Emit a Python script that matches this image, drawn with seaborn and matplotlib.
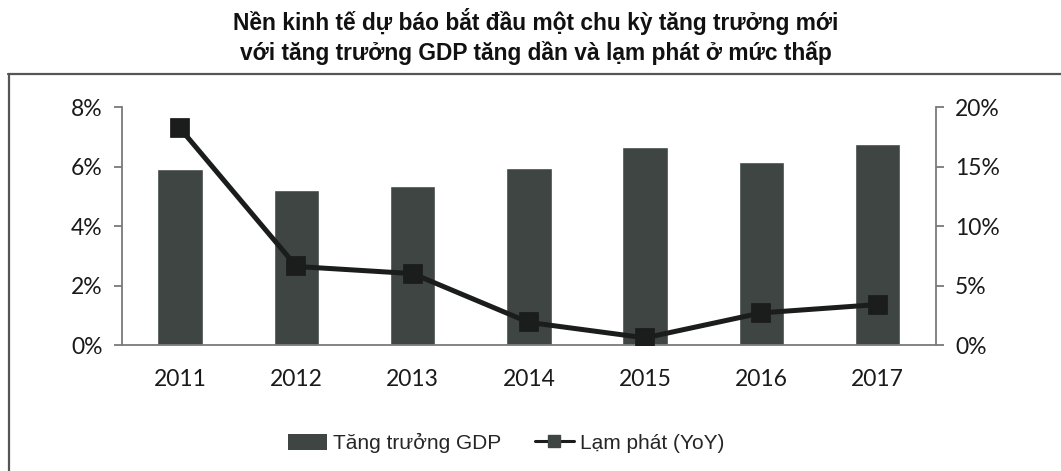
import numpy as np
import pandas as pd
import matplotlib
matplotlib.use("Agg")
import matplotlib.pyplot as plt
from matplotlib.lines import Line2D
from matplotlib.patches import Patch
from matplotlib.ticker import PercentFormatter, FixedLocator
import seaborn as sns

# data (%)
years = ["2011", "2012", "2013", "2014", "2015", "2016", "2017"]
gdp_growth = [5.9, 5.2, 5.35, 5.95, 6.65, 6.15, 6.75]
inflation = [18.2, 6.6, 6.0, 1.9, 0.6, 2.7, 3.4]

title = "Nền kinh tế dự báo bắt đầu một chu kỳ tăng trưởng mới\nvới tăng trưởng GDP tăng dần và lạm phát ở mức thấp"
gdp_label = "Tăng trưởng GDP"
cpi_label = "Lạm phát (YoY)"

df = pd.DataFrame({"year": years, "gdp": gdp_growth, "cpi": inflation})

sns.set_style("white")
plt.rcParams["font.family"] = ["Lato", "DejaVu Sans"]

bar_color = "#3e4542"
line_color = "#1b1d1c"
spine_color = "#7a7a7a"
text_color = "#1a1a1a"

fig = plt.figure(figsize=(10.61, 4.71), dpi=100)
ax = fig.add_axes([0.115, 0.2675, 0.767, 0.5053])

sns.barplot(data=df, x="year", y="gdp", color=bar_color, width=0.39,
            saturation=1, ax=ax, zorder=2)
ax.set_ylim(0, 8)
ax.set_xlim(-0.5, 6.5)
ax.set_yticks([0, 2, 4, 6, 8])
ax.yaxis.set_major_formatter(PercentFormatter(xmax=100, decimals=0))

ax2 = ax.twinx()
sns.pointplot(data=df, x="year", y="cpi", color=line_color, markers="s",
              markersize=11, linewidth=3.6, ax=ax2, zorder=3)
ax2.set_ylim(0, 20)
ax2.set_xlim(-0.5, 6.5)
ax2.set_yticks([0, 5, 10, 15, 20])
ax2.yaxis.set_major_formatter(PercentFormatter(xmax=100, decimals=0))

for a in (ax, ax2):
    a.set_xlabel("")
    a.set_ylabel("")
    a.spines["top"].set_visible(False)
    for s in ("left", "right", "bottom"):
        a.spines[s].set_color(spine_color)
        a.spines[s].set_linewidth(1.3)
    a.tick_params(axis="y", labelsize=16.5, labelcolor=text_color, colors=spine_color,
                  direction="out", length=6, width=1.3, pad=8)
ax.spines["right"].set_visible(False)
ax2.spines["left"].set_visible(False)
ax2.spines["bottom"].set_visible(False)

# category labels centred, ticks on the category boundaries
ax.tick_params(axis="x", which="major", length=0, labelsize=16.5,
               labelcolor=text_color, pad=17)
ax.xaxis.set_minor_locator(FixedLocator(np.arange(-0.5, 7, 1.0)))
ax.tick_params(axis="x", which="minor", length=7, width=1.3,
               color=spine_color, direction="out")
ax.patch.set_visible(False)
ax2.set_zorder(ax.get_zorder() + 1)

handles = [Patch(facecolor=bar_color, edgecolor="none"),
           Line2D([0], [0], color=line_color, lw=2.2, marker="s", markersize=9,
                  markerfacecolor=bar_color, markeredgecolor=bar_color)]
fig.legend(handles, [gdp_label, cpi_label], loc="center", ncol=2,
           bbox_to_anchor=(0.477, 0.06), frameon=False, handlelength=1.9,
           handleheight=0.8, handletextpad=0.28, columnspacing=1.6,
           prop={"family": ["Liberation Sans", "DejaVu Sans"], "size": 15})

fig.text(0.505, 0.922, title, ha="center", va="center", fontsize=16.4,
         fontweight="bold", family=["Liberation Sans", "DejaVu Sans"],
         linespacing=1.3, color="#111111")

# frame around the chart area (top and left edges visible in the crop)
fig.add_artist(Line2D([0.0075, 1.0], [0.843, 0.843], transform=fig.transFigure,
                      color="#555555", lw=1.6))
fig.add_artist(Line2D([0.0085, 0.0085], [0.0, 0.843], transform=fig.transFigure,
                      color="#555555", lw=1.6))

fig.savefig("out.png", dpi=100)
